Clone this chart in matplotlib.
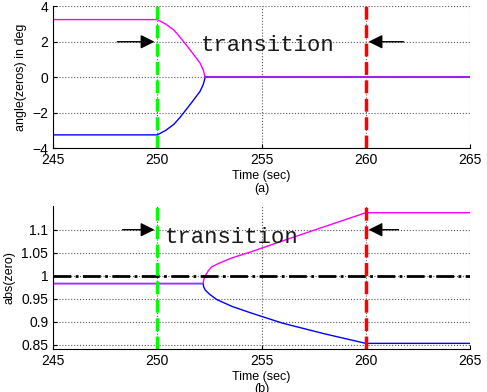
import matplotlib.pyplot as plt

# zero angles (deg) of the two roots
t_angle = [245, 250, 250.4, 250.8, 251.1, 251.6, 252.05, 252.2, 252.3, 265]
angle_up = [3.25, 3.25, 3.0, 2.65, 2.25, 1.5, 0.8, 0.42, 0.0, 0.0]
angle_dn = [-3.25, -3.25, -3.0, -2.65, -2.25, -1.5, -0.8, -0.42, 0.0, 0.0]

# zero magnitudes of the two roots
t_mag_up = [245, 252.2, 252.23, 252.3, 252.45, 252.6, 253, 253.6, 254.5, 255, 257, 260, 265]
mag_up = [0.983, 0.983, 0.992, 1.0, 1.011, 1.019, 1.028, 1.039, 1.052, 1.06, 1.091, 1.137, 1.137]
t_mag_dn = [245, 252.2, 252.23, 252.3, 252.5, 252.86, 253.6, 254.5, 256, 258, 260, 265]
mag_dn = [0.983, 0.983, 0.975, 0.969, 0.960, 0.948, 0.933, 0.919, 0.897, 0.874, 0.853, 0.853]

t_start = 250
t_end = 260

plt.rcParams['font.family'] = ['Liberation Sans', 'DejaVu Sans']
fig = plt.figure(figsize=(4.87, 3.92), dpi=100)
ax1 = fig.add_axes([0.109, 0.622, 0.856, 0.362])
ax2 = fig.add_axes([0.109, 0.110, 0.856, 0.365])


def style(ax):
    ax.grid(True, linestyle=':', color='0.35', linewidth=0.8)
    ax.spines['top'].set_visible(False)
    ax.spines['right'].set_visible(False)
    ax.tick_params(direction='in', length=3, labelsize=10, top=False, right=False)
    ax.set_xlim(245, 265)
    ax.set_xticks([245, 250, 255, 260, 265])


arrow = dict(arrowstyle='-|>,head_length=0.6,head_width=0.3', color='k', lw=1,
             mutation_scale=14)

# top panel: angles
ax1.plot(t_angle, angle_up, color='#ff00ff', lw=1)
ax1.plot(t_angle, angle_dn, color='#0000ff', lw=1)
ax1.plot([252.3, 265], [0, 0], color='#a020f0', lw=1.5)
ax1.axvline(t_start, color='#00ff00', ls='--', lw=2.5)
ax1.axvline(t_end, color='#ff0000', ls='--', lw=2.5)
ax1.set_ylim(-4, 4)
ax1.set_yticks([-4, -2, 0, 2, 4])
style(ax1)
ax1.set_xlabel('Time (sec)\n(a)', fontsize=9, labelpad=2, linespacing=1.1)
ax1.set_ylabel('angle(zeros) in deg', fontsize=9)
ax1.annotate('', xy=(t_start, 2), xytext=(247.95, 2), arrowprops=arrow)
ax1.annotate('', xy=(t_end, 2), xytext=(261.95, 2), arrowprops=arrow)
ax1.text(252.07, 1.8, 'transition', family='Liberation Mono', fontsize=16,
         va='center', color='0.1')

# bottom panel: magnitudes
ax2.plot(t_mag_dn, mag_dn, color='#0000ff', lw=1)
ax2.plot(t_mag_up, mag_up, color='#ff00ff', lw=1)
ax2.axhline(1, color='k', ls='-.', lw=2)
ax2.axvline(t_start, color='#00ff00', ls='--', lw=2.5)
ax2.axvline(t_end, color='#ff0000', ls='--', lw=2.5)
ax2.set_ylim(0.841, 1.152)
ax2.set_yticks([0.85, 0.9, 0.95, 1.0, 1.05, 1.1])
ax2.set_yticklabels(['0.85', '0.9', '0.95', '1', '1.05', '1.1'])
style(ax2)
ax2.set_xlabel('Time (sec)\n(b)', fontsize=9, labelpad=2, linespacing=1.1)
ax2.set_ylabel('abs(zero)', fontsize=9)
ax2.annotate('', xy=(t_start, 1.1), xytext=(248.2, 1.1), arrowprops=arrow)
ax2.annotate('', xy=(t_end, 1.1), xytext=(261.7, 1.1), arrowprops=arrow)
ax2.text(250.38, 1.083, 'transition', family='Liberation Mono', fontsize=16,
         va='center', color='0.1')

fig.savefig('out.png', dpi=100)
